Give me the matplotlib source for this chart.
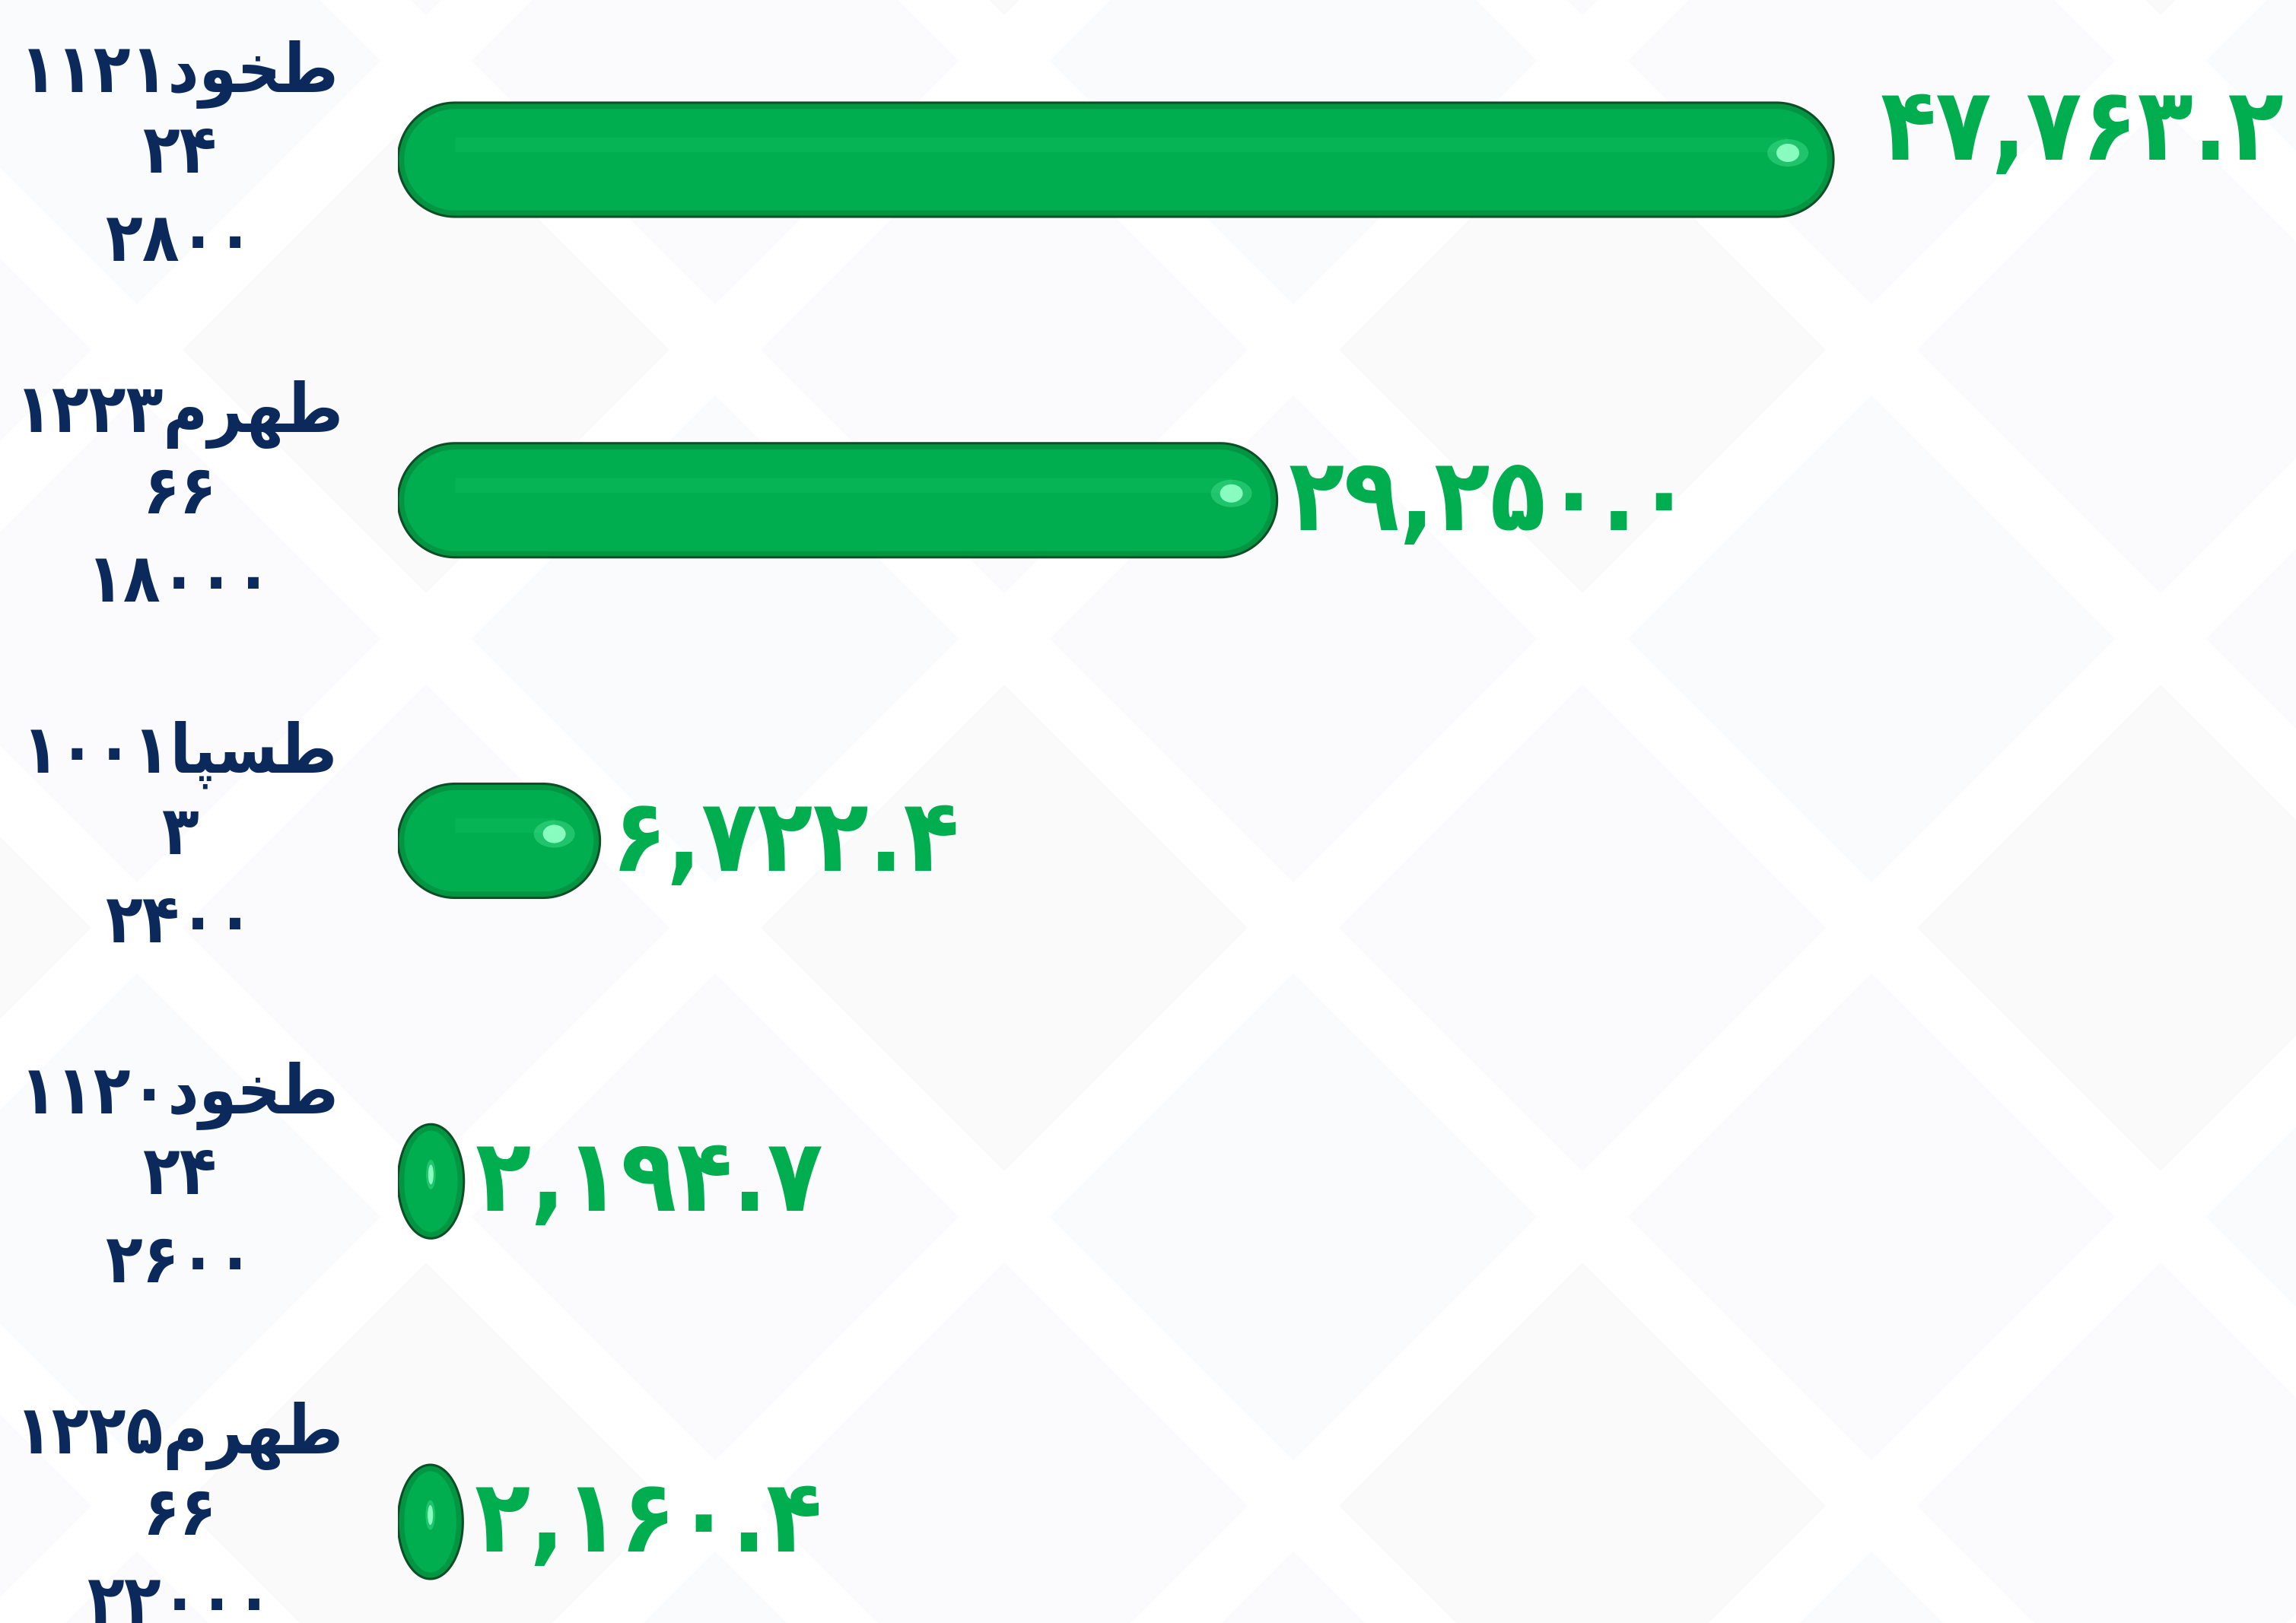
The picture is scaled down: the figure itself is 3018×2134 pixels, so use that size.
import numpy as np
import matplotlib.pyplot as plt
from matplotlib.patches import Polygon, Ellipse
from matplotlib.transforms import blended_transform_factory

# chart data (label lines are logical Persian text)
names = ["طخود۱۱۲۱", "طهرم۱۲۲۳", "طسپا۱۰۰۱", "طخود۱۱۲۰", "طهرم۱۲۲۵"]
sizes = ["۲۴", "۶۶", "۳", "۲۴", "۶۶"]
widths = ["۲۸۰۰", "۱۸۰۰۰", "۲۴۰۰", "۲۶۰۰", "۲۲۰۰۰"]
values = [47763.2, 29250.0, 6722.4, 2194.7, 2160.4]

GREEN = "#00ad4f"
NAVY = "#0b2a5b"

# arabic presentation forms: isolated, final, initial, medial
FORMS = {
    "ا": ("\uFE8D", "\uFE8E", None, None),
    "د": ("\uFEA9", "\uFEAA", None, None),
    "ر": ("\uFEAD", "\uFEAE", None, None),
    "و": ("\uFEED", "\uFEEE", None, None),
    "ط": ("\uFEC1", "\uFEC2", "\uFEC3", "\uFEC4"),
    "خ": ("\uFEA5", "\uFEA6", "\uFEA7", "\uFEA8"),
    "ه": ("\uFEE9", "\uFEEA", "\uFEEB", "\uFEEC"),
    "م": ("\uFEE1", "\uFEE2", "\uFEE3", "\uFEE4"),
    "س": ("\uFEB1", "\uFEB2", "\uFEB3", "\uFEB4"),
    "پ": ("\uFB56", "\uFB57", "\uFB58", "\uFB59"),
}


def shape(word):
    out = []
    for i, ch in enumerate(word):
        prev = word[i - 1] if i > 0 else None
        nxt = word[i + 1] if i < len(word) - 1 else None
        iso, fin, ini, med = FORMS[ch]
        jp = prev in FORMS and FORMS[prev][2] is not None
        jn = ini is not None and nxt in FORMS
        if jp and jn:
            out.append(med)
        elif jp:
            out.append(fin)
        elif jn:
            out.append(ini)
        else:
            out.append(iso)
    return "".join(reversed(out))


def visual(s):
    # rtl paragraph: letter runs get shaped + reversed, digit runs stay ltr
    runs = []
    for ch in s:
        kind = ch in FORMS
        if runs and runs[-1][0] == kind:
            runs[-1][1] += ch
        else:
            runs.append([kind, ch])
    parts = [shape(t) if k else t for k, t in runs]
    return "".join(reversed(parts))


fa_digits = str.maketrans("0123456789", "۰۱۲۳۴۵۶۷۸۹")

W, H, DPI = 3018, 2134, 100
PT = 72 / DPI  # points per pixel
fig = plt.figure(figsize=(W / DPI, H / DPI), dpi=DPI)
fig.patch.set_facecolor("#ffffff")

# faint diamond pattern in a background axes
bg = fig.add_axes([0, 0, 1, 1], zorder=-1)
bg.set_xlim(0, W)
bg.set_ylim(H, 0)
bg.axis("off")
for i, cx in enumerate(np.arange(-200, W + 400, 760)):
    for j, cy in enumerate(np.arange(-300, H + 400, 760)):
        for dx, dy, col in [(0, 0, "#fafafb"), (380, 380, "#f9fbfc")]:
            if (i + j) % 2:
                col = "#fbfafc"
            r = 320
            px, py = cx + dx, cy + dy
            pts = [(px - r, py), (px, py + r), (px + r, py), (px, py - r)]
            bg.add_patch(Polygon(pts, closed=True, facecolor=col, edgecolor="none"))

x0_px = 523
ax = fig.add_axes([x0_px / W, 0, 1 - x0_px / W, 1], zorder=1)
ax.axis("off")
ax.patch.set_alpha(0)
xmax = 63150
ax.set_xlim(0, xmax)
ytop, ybot = -0.469, 4.297
ax.set_ylim(ybot, ytop)

hh = 0.1675  # half bar height (data)
px_x = (W - x0_px) / xmax
px_y = H / (ybot - ytop)
rx = hh * px_y / px_x  # cap radius in x data units


def pill(x0, w, yc):
    cx = min(rx, w / 2)
    t1 = np.linspace(np.pi / 2, 3 * np.pi / 2, 80)
    t2 = np.linspace(-np.pi / 2, np.pi / 2, 80)
    left = np.column_stack([x0 + cx + cx * np.cos(t1), yc + hh * np.sin(t1)])
    right = np.column_stack([x0 + w - cx + cx * np.cos(t2), yc + hh * np.sin(t2)])
    return np.vstack([left, right]), cx


ys = np.arange(len(values))
for yc, v in zip(ys, values):
    pts, cx = pill(0, v, yc)
    body = Polygon(pts, closed=True, facecolor=GREEN, edgecolor="none", zorder=2)
    ax.add_patch(body)
    rim = Polygon(pts, closed=True, fill=False, edgecolor="#067a36", lw=12,
                  alpha=0.45, zorder=3)
    rim.set_clip_path(body)
    ax.add_patch(rim)
    ax.add_patch(Polygon(pts, closed=True, fill=False, edgecolor="#0c4f26",
                         lw=2.2, zorder=4))
    if v > 2 * rx:
        hl, = ax.plot([rx, v - 0.8 * rx], [yc - 0.27 * hh] * 2, color="#12c063",
                      lw=14, alpha=0.35, solid_capstyle="butt", zorder=3)
        hl.set_clip_path(body)
        sx, sw, sh = v - 0.8 * rx, 30, 24
    else:
        sx, sw, sh = v / 2, 7, 26
    ax.add_patch(Ellipse((sx, yc - 0.12 * hh), 1.8 * sw / px_x, 1.5 * sh / px_y,
                         facecolor="#5cf0a0", edgecolor="none", alpha=0.35, zorder=5))
    ax.add_patch(Ellipse((sx, yc - 0.12 * hh), sw / px_x, sh / px_y,
                         facecolor="#8fffc4", edgecolor="none", alpha=0.95, zorder=5))

# value labels
blend = blended_transform_factory(fig.transFigure, ax.transData)
vfont = dict(fontsize=96, fontweight="bold", fontstretch="condensed", color=GREEN, zorder=6)
for yc, v in zip(ys, values):
    s = f"{v:,.1f}".translate(fa_digits)
    if v == max(values):
        ax.text(0.995, yc, s, transform=blend, ha="right", va="baseline", **vfont)
    else:
        ax.annotate(s, (v, yc), xytext=(11, -39 * PT), textcoords="offset points",
                    ha="left", va="baseline", **vfont)

# category labels, three lines each
lfont = dict(fontsize=64, fontweight="bold", fontstretch="condensed", color=NAVY,
             zorder=6, annotation_clip=False)
for yc, n, a, b in zip(ys, names, sizes, widths):
    for line, dy in zip([visual(n), a, b], [90, -17, -133]):
        ax.annotate(line, (236 / W, yc), xycoords=blend,
                    xytext=(0, dy * PT), textcoords="offset points",
                    ha="center", va="baseline", **lfont)

fig.savefig("out.png", dpi=DPI, facecolor=fig.get_facecolor())
